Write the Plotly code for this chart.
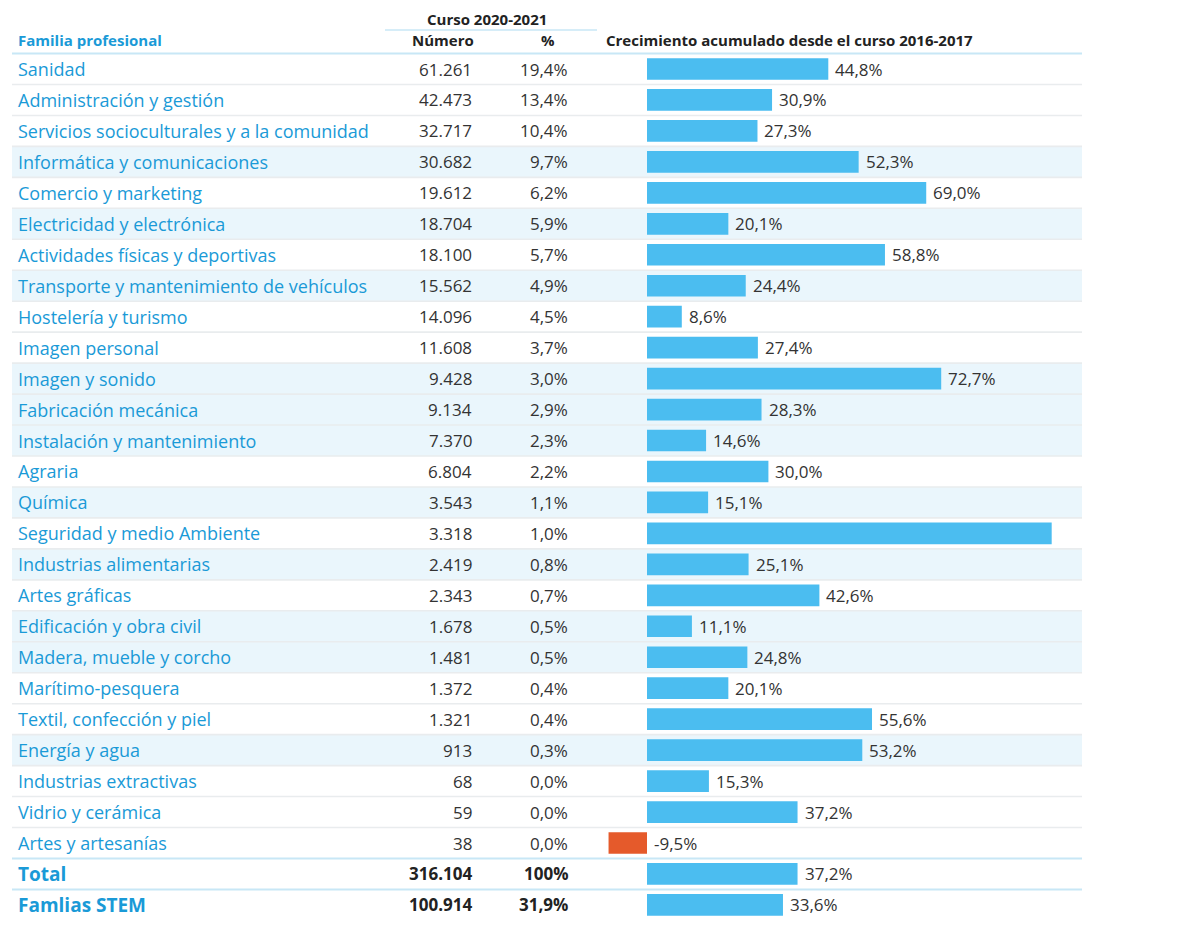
import plotly.graph_objects as go

familias = [
    "Sanidad", "Administración y gestión", "Servicios socioculturales y a la comunidad",
    "Informática y comunicaciones", "Comercio y marketing", "Electricidad y electrónica",
    "Actividades físicas y deportivas", "Transporte y mantenimiento de vehículos",
    "Hostelería y turismo", "Imagen personal", "Imagen y sonido", "Fabricación mecánica",
    "Instalación y mantenimiento", "Agraria", "Química", "Seguridad y medio Ambiente",
    "Industrias alimentarias", "Artes gráficas", "Edificación y obra civil",
    "Madera, mueble y corcho", "Marítimo-pesquera", "Textil, confección y piel",
    "Energía y agua", "Industrias extractivas", "Vidrio y cerámica", "Artes y artesanías",
]
numero = ["61.261", "42.473", "32.717", "30.682", "19.612", "18.704", "18.100", "15.562",
          "14.096", "11.608", "9.428", "9.134", "7.370", "6.804", "3.543", "3.318",
          "2.419", "2.343", "1.678", "1.481", "1.372", "1.321", "913", "68", "59", "38"]
porcentaje = ["19,4%", "13,4%", "10,4%", "9,7%", "6,2%", "5,9%", "5,7%", "4,9%", "4,5%",
              "3,7%", "3,0%", "2,9%", "2,3%", "2,2%", "1,1%", "1,0%", "0,8%", "0,7%",
              "0,5%", "0,5%", "0,4%", "0,4%", "0,3%", "0,0%", "0,0%", "0,0%"]
crecimiento = [44.8, 30.9, 27.3, 52.3, 69.0, 20.1, 58.8, 24.4, 8.6, 27.4, 72.7, 28.3,
               14.6, 30.0, 15.1, 100.0, 25.1, 42.6, 11.1, 24.8, 20.1, 55.6, 53.2, 15.3,
               37.2, -9.5]
stem = [0, 0, 0, 1, 0, 1, 0, 1, 0, 0, 1, 1, 1, 0, 1, 0, 1, 0, 1, 1, 0, 0, 1, 0, 0, 0]
show_label = [True] * 15 + [False] + [True] * 10

totales_nombre = ["Total", "Famlias STEM"]
totales_numero = ["316.104", "100.914"]
totales_pct = ["100%", "31,9%"]
totales_crec = [37.2, 33.6]

W, H = 1180, 929
OFF = 8  # page body margin
ROW0, ROWH = 69 - OFF, 30.96
BLUE_TXT = "#1a9ad7"
BAR = "#4bbdf0"
NEG = "#e55a2b"
STRIPE = "#eaf6fc"
FONT = "Open Sans"

n = len(familias)
all_names = familias + totales_nombre
all_num = numero + totales_numero
all_pct = porcentaje + totales_pct
all_crec = crecimiento + totales_crec
all_show = show_label + [True, True]
N = len(all_names)
ys = list(range(N))

def px(x):
    return (x - OFF) / W

fig = go.Figure()
fig.add_trace(go.Bar(
    x=all_crec, y=ys, orientation="h", width=0.7,
    marker=dict(color=[NEG if v < 0 else BAR for v in all_crec], line=dict(width=0)),
    hoverinfo="skip", showlegend=False,
))

shapes = []
annotations = []
for i in range(n):
    if stem[i]:
        shapes.append(dict(type="rect", xref="paper", yref="y", x0=px(12), x1=px(1082),
                           y0=i - 0.5, y1=i + 0.5, fillcolor=STRIPE, line=dict(width=0),
                           layer="below"))
for i in range(N - 1):
    blue = i >= n - 1
    shapes.append(dict(type="line", xref="paper", yref="y", x0=px(12), x1=px(1082),
                       y0=i + 0.5, y1=i + 0.5,
                       line=dict(color="#c8e7f6" if blue else "#e9ecee", width=2 if blue else 1.6),
                       layer="below"))
shapes.append(dict(type="line", xref="paper", yref="y", x0=px(12), x1=px(1082),
                   y0=-0.5, y1=-0.5, line=dict(color="#c8e7f6", width=2), layer="below"))
shapes.append(dict(type="line", xref="paper", yref="y", x0=px(385), x1=px(597),
                   y0=-1.26, y1=-1.26, line=dict(color="#c8e7f6", width=1.5), layer="below"))

for i in range(N):
    bold = i >= n
    annotations.append(dict(xref="paper", yref="y", x=px(16), y=i, text=all_names[i],
                            xanchor="left", yanchor="middle", showarrow=False,
                            font=dict(family=FONT, size=18 if not bold else 19, color=BLUE_TXT,
                                      weight="bold" if bold else "normal")))
    annotations.append(dict(xref="paper", yref="y", x=px(474), y=i, text=all_num[i],
                            xanchor="right", yanchor="middle", showarrow=False,
                            font=dict(family=FONT, size=17, color="#222" if bold else "#333",
                                      weight="bold" if bold else "normal")))
    annotations.append(dict(xref="paper", yref="y", x=px(570), y=i, text=all_pct[i],
                            xanchor="right", yanchor="middle", showarrow=False,
                            font=dict(family=FONT, size=17, color="#222" if bold else "#333",
                                      weight="bold" if bold else "normal")))
    if all_show[i]:
        v = all_crec[i]
        annotations.append(dict(xref="x", yref="y", x=max(v, 0), y=i,
                                text=f"{v:.1f}%".replace(".", ","),
                                xanchor="left", yanchor="middle", showarrow=False, xshift=5,
                                font=dict(family=FONT, size=17, color="#333")))

hdr = dict(family=FONT, size=15, color="#222", weight="bold")
annotations += [
    dict(xref="paper", yref="y", x=px(16), y=-0.93, text="Familia profesional",
         xanchor="left", yanchor="middle", showarrow=False,
         font=dict(family=FONT, size=15, color=BLUE_TXT, weight="bold")),
    dict(xref="paper", yref="y", x=px(487), y=-1.6, text="Curso 2020-2021",
         xanchor="center", yanchor="middle", showarrow=False, font=hdr),
    dict(xref="paper", yref="y", x=px(443), y=-0.93, text="Número",
         xanchor="center", yanchor="middle", showarrow=False, font=hdr),
    dict(xref="paper", yref="y", x=px(548), y=-0.93, text="%",
         xanchor="center", yanchor="middle", showarrow=False, font=hdr),
    dict(xref="paper", yref="y", x=px(604), y=-0.93,
         text="Crecimiento acumulado desde el curso 2016-2017",
         xanchor="left", yanchor="middle", showarrow=False, font=hdr),
]

scale = (828.3 - 647) / 44.8
x0 = 580
x1 = 1082
fig.update_layout(
    width=W, height=H, margin=dict(l=0, r=0, t=0, b=0),
    paper_bgcolor="white", plot_bgcolor="rgba(0,0,0,0)",
    xaxis=dict(domain=[px(x0), px(x1)], range=[(x0 - 647) / scale, (x1 - 647) / scale],
               visible=False, fixedrange=True),
    yaxis=dict(domain=[0, 1], range=[(H - ROW0) / ROWH, -ROW0 / ROWH],
               visible=False, fixedrange=True),
    shapes=shapes, annotations=annotations, bargap=0.3,
    font=dict(family=FONT),
)
fig.write_html("out.html")
